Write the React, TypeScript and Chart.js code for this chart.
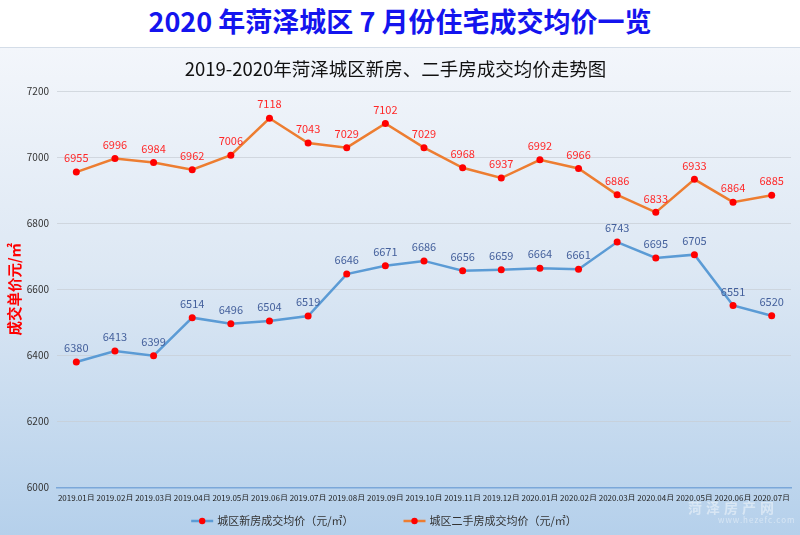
import React, { useEffect, useRef } from "react";
import { Chart, registerables } from "chart.js";

Chart.register(...registerables);

const categories = [
  "2019.01月", "2019.02月", "2019.03月", "2019.04月", "2019.05月", "2019.06月", "2019.07月",
  "2019.08月", "2019.09月", "2019.10月", "2019.11月", "2019.12月", "2020.01月", "2020.02月",
  "2020.03月", "2020.04月", "2020.05月", "2020.06月", "2020.07月",
];
const newHousePrices = [6380, 6413, 6399, 6514, 6496, 6504, 6519, 6646, 6671, 6686, 6656, 6659, 6664, 6661, 6743, 6695, 6705, 6551, 6520];
const resalePrices = [6955, 6996, 6984, 6962, 7006, 7118, 7043, 7029, 7102, 7029, 6968, 6937, 6992, 6966, 6886, 6833, 6933, 6864, 6885];
const seriesNames = ["城区新房成交均价（元/㎡）", "城区二手房成交均价（元/㎡）"];
const yMin = 6000;
const yMax = 7200;
const yStep = 200;

const FONT = "'Noto Sans CJK SC', 'Noto Sans', sans-serif";

const labelPlugin = {
  id: "valueLabels",
  afterDatasetsDraw(chart: any) {
    const ctx = chart.ctx;
    const colors = ["#44609c", "#ff2828"];
    ctx.save();
    ctx.font = `11px ${FONT}`;
    ctx.textAlign = "center";
    ctx.textBaseline = "middle";
    chart.data.datasets.forEach((ds: any, i: number) => {
      const meta = chart.getDatasetMeta(i);
      ctx.fillStyle = colors[i];
      meta.data.forEach((pt: any, j: number) => {
        ctx.fillText(String(ds.data[j]), pt.x, pt.y - 14);
      });
    });
    ctx.restore();
  },
};

const legendPlugin = {
  id: "customLegend",
  afterDraw(chart: any) {
    const ctx = chart.ctx;
    const y = chart.height - 14;
    ctx.save();
    ctx.font = `11px ${FONT}`;
    ctx.textBaseline = "middle";
    const lineW = 22;
    const gapText = 4;
    const gapItems = 50;
    const widths = chart.data.datasets.map((ds: any) => lineW + gapText + ctx.measureText(ds.label).width);
    const total = widths.reduce((a: number, b: number) => a + b, 0) + gapItems * (widths.length - 1);
    let x = 384 - total / 2;
    chart.data.datasets.forEach((ds: any, i: number) => {
      ctx.strokeStyle = ds.borderColor;
      ctx.lineWidth = 2.5;
      ctx.beginPath();
      ctx.moveTo(x, y);
      ctx.lineTo(x + lineW, y);
      ctx.stroke();
      ctx.fillStyle = "#ff0000";
      ctx.beginPath();
      ctx.arc(x + lineW / 2, y, 3.2, 0, Math.PI * 2);
      ctx.fill();
      ctx.fillStyle = "#333";
      ctx.textAlign = "left";
      ctx.fillText(ds.label, x + lineW + gapText, y);
      x += widths[i] + gapItems;
    });
    ctx.restore();
  },
};

export default function App() {
  const ref = useRef<HTMLCanvasElement>(null);

  useEffect(() => {
    const mk = (label: string, data: number[], color: string) => ({
      label,
      data,
      borderColor: color,
      backgroundColor: color,
      borderWidth: 2.5,
      pointRadius: 3.5,
      pointBackgroundColor: "#ff0000",
      pointBorderColor: "#ff0000",
      pointBorderWidth: 0,
      tension: 0,
    });
    const chart = new Chart(ref.current!, {
      type: "line",
      data: {
        labels: categories,
        datasets: [
          mk(seriesNames[0], newHousePrices, "#5b9bd5"),
          mk(seriesNames[1], resalePrices, "#ed7d31"),
        ],
      },
      options: {
        responsive: false,
        animation: false,
        layout: { padding: { left: 0, right: 9, top: 0, bottom: 34 } },
        plugins: {
          title: {
            display: true,
            text: "2019-2020年菏泽城区新房、二手房成交均价走势图",
            color: "#111",
            font: { family: FONT, size: 18.5, weight: "normal" },
            padding: { top: 10, bottom: 11 },
          },
          legend: { display: false },
          tooltip: { enabled: false },
        },
        scales: {
          x: {
            offset: true,
            grid: { display: false },
            border: { display: true, color: "#7ba7d9", width: 1.5 },
            ticks: {
              autoSkip: false,
              maxRotation: 0,
              minRotation: 0,
              color: "#222",
              font: { family: FONT, size: 8 },
              padding: -2,
            },
          },
          y: {
            min: yMin,
            max: yMax,
            grid: {
              color: (c: any) => (c.tick && c.tick.value === yMin ? "rgba(0,0,0,0)" : "rgba(200,205,212,0.7)"),
              drawTicks: false,
            },
            border: { display: false },
            ticks: {
              stepSize: yStep,
              color: "#333",
              font: { family: FONT, size: 10 },
              padding: 8,
              callback: (v: any) => String(v),
            },
            title: {
              display: true,
              text: "成交单价元/㎡",
              color: "#ff0000",
              font: { family: FONT, size: 14.5, weight: "bold" },
              padding: { top: 6, bottom: 0 },
            },
            afterFit: (s: any) => {
              s.width = 57;
            },
          },
        },
      },
      plugins: [labelPlugin, legendPlugin],
    });
    return () => chart.destroy();
  }, []);

  return (
    <div style={{ position: "fixed", left: 0, top: 0, width: 800, height: 535, background: "#fff", overflow: "hidden" }}>
      <div
        style={{
          height: 47,
          lineHeight: "41px",
          textAlign: "center",
          color: "#1414ee",
          fontFamily: FONT,
          fontWeight: "bold",
          fontSize: 27,
          whiteSpace: "nowrap",
        }}
      >
        2020 年菏泽城区 7 月份住宅成交均价一览
      </div>
      <div
        style={{
          position: "absolute",
          top: 47,
          left: 0,
          width: 800,
          height: 488,
          borderTop: "1px solid #d4dde8",
          background: "linear-gradient(#f3f6fb 0%, #dde8f4 45%, #b5d0eb 100%)",
        }}
      >
        <canvas ref={ref} width={800} height={487} style={{ display: "block" }} />
        <div
          style={{
            position: "absolute",
            left: 688,
            top: 449,
            color: "rgba(255,255,255,0.45)",
            fontFamily: FONT,
            fontWeight: "bold",
            fontSize: 14,
            letterSpacing: 4,
          }}
        >
          菏泽房产网
        </div>
        <div
          style={{
            position: "absolute",
            left: 718,
            top: 466,
            color: "rgba(255,255,255,0.45)",
            fontFamily: FONT,
            fontSize: 8,
            letterSpacing: 1,
          }}
        >
          www.hezefc.com
        </div>
      </div>
    </div>
  );
}
